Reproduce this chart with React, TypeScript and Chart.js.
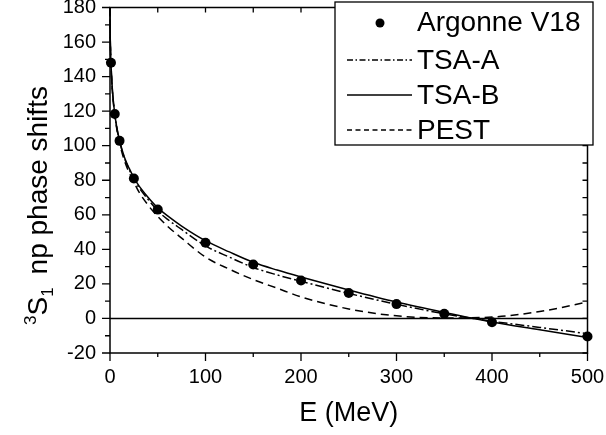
import React, { useEffect, useRef } from 'react';
import { Chart, registerables } from 'chart.js';

Chart.register(...registerables);

// ---- Data ----
const curveE = [0, 0.2, 0.5, 1, 2, 3, 5, 7, 10, 15, 20, 25, 30, 40, 50, 60, 75, 100, 125, 150, 175, 200, 250, 300, 350, 400, 450, 500];
const tsaA = [180, 165, 156.6, 148, 136.5, 128.8, 118.2, 110.8, 102.6, 93, 86.3, 80.5, 76, 68.8, 62.3, 57.5, 51.5, 42, 35.5, 29.5, 25.2, 21.5, 14.5, 8.2, 2.7, -1.6, -5.2, -8.8];
const tsaB = [180, 165, 156.6, 148, 136.5, 128.8, 118.4, 111, 103, 93.5, 87, 81.5, 77, 70, 64, 59.5, 53.5, 45, 38.5, 32.5, 28, 24, 16.5, 9.5, 3.5, -2, -6.5, -11];
const pest = [180, 165, 156.5, 147.8, 136, 128, 117.5, 110, 101.5, 91.5, 84.5, 79, 73.5, 65.5, 59, 53.5, 46.5, 35.5, 28.5, 22.5, 17.5, 12.5, 5.5, 1.5, 0.3, 0.8, 4, 9.5];

const argonneE = [1, 5, 10, 25, 50, 100, 150, 200, 250, 300, 350, 400, 500];
const argonne = [148, 118.4, 102.8, 81, 63, 43.8, 31.2, 22, 14.7, 8.3, 2.7, -2.2, -10.5];

const zeroLineE = [0, 500];
const zeroLineV = [0, 0];

const seriesLabels = ['Argonne V18', 'TSA-A', 'TSA-B', 'PEST'];
const xTitle = 'E (MeV)';
const yTitleSup = '3';
const yTitleMain = 'S';
const yTitleSub = '1';
const yTitleRest = 'np phase shifts';

const xMin = 0, xMax = 500, xStep = 100, xMinorStep = 50;
const yMin = -20, yMax = 180, yStep = 20, yMinorStep = 10;

const FONT = '"Liberation Sans", Arial, Helvetica, sans-serif';

const pts = (xs: number[], ys: number[]) => xs.map((x, i) => ({ x, y: ys[i] }));

const framePlugin = {
  id: 'frame',
  afterDatasetsDraw(chart: any) {
    const ctx = chart.ctx;
    const { left, right, top, bottom } = chart.chartArea;
    const xs = chart.scales.x;
    const ys = chart.scales.y;
    ctx.save();
    ctx.strokeStyle = '#000';
    ctx.lineWidth = 1.5;
    ctx.strokeRect(left, top, right - left, bottom - top);
    ctx.lineWidth = 1.3;
    ctx.beginPath();
    for (let v = xMin; v <= xMax; v += xMinorStep) {
      const px = xs.getPixelForValue(v);
      const major = v % xStep === 0;
      ctx.moveTo(px, bottom);
      ctx.lineTo(px, bottom + (major ? 8 : 4));
      ctx.moveTo(px, top);
      ctx.lineTo(px, top + 5);
    }
    for (let v = yMin; v <= yMax; v += yMinorStep) {
      const py = ys.getPixelForValue(v);
      const major = v % yStep === 0;
      ctx.moveTo(left, py);
      ctx.lineTo(left - (major ? 8 : 5), py);
      ctx.moveTo(right, py);
      ctx.lineTo(right - 5, py);
    }
    ctx.stroke();

    // axis titles
    ctx.fillStyle = '#000';
    ctx.font = `27px ${FONT}`;
    ctx.textAlign = 'center';
    ctx.textBaseline = 'alphabetic';
    ctx.fillText(xTitle, (left + right) / 2, 421);

    ctx.save();
    ctx.translate(47, 325);
    ctx.rotate(-Math.PI / 2);
    ctx.textAlign = 'left';
    let cx = 0;
    ctx.font = `17px ${FONT}`;
    ctx.fillText(yTitleSup, cx, -11);
    cx += ctx.measureText(yTitleSup).width;
    ctx.font = `28px ${FONT}`;
    ctx.fillText(yTitleMain, cx, 0);
    cx += ctx.measureText(yTitleMain).width;
    ctx.font = `17px ${FONT}`;
    ctx.fillText(yTitleSub, cx, 6);
    cx += ctx.measureText(yTitleSub).width + 13;
    ctx.font = `28px ${FONT}`;
    ctx.fillText(yTitleRest, cx, 0);
    ctx.restore();

    // legend
    const bx = 335, by = 2, bw = 258, bh = 143;
    ctx.fillStyle = '#fff';
    ctx.fillRect(bx, by, bw, bh);
    ctx.strokeStyle = '#000';
    ctx.lineWidth = 1.3;
    ctx.strokeRect(bx, by, bw, bh);
    const rows = [23, 61, 96, 131];
    const textX = 417;
    ctx.font = `28px ${FONT}`;
    ctx.textBaseline = 'middle';
    ctx.textAlign = 'left';
    const dashes = [[], [6, 2.5, 1.5, 2.5], [], [5, 3.5]];
    seriesLabels.forEach((lab, i) => {
      const y = rows[i];
      ctx.fillStyle = '#000';
      if (i === 0) {
        ctx.beginPath();
        ctx.arc(380, y, 4.5, 0, Math.PI * 2);
        ctx.fill();
      } else {
        ctx.save();
        ctx.setLineDash(dashes[i]);
        ctx.lineWidth = 1.3;
        ctx.beginPath();
        ctx.moveTo(347, y - 1);
        ctx.lineTo(412, y - 1);
        ctx.stroke();
        ctx.restore();
      }
      ctx.fillText(lab, textX, y);
    });
    ctx.restore();
  },
};

export default function App() {
  const ref = useRef<HTMLCanvasElement | null>(null);
  useEffect(() => {
    document.body.style.margin = '0';
    const canvas = ref.current;
    if (!canvas) return;
    const chart = new Chart(canvas, {
      type: 'line',
      data: {
        datasets: [
          {
            label: 'zero',
            data: pts(zeroLineE, zeroLineV),
            borderColor: '#000',
            borderWidth: 1.5,
            pointRadius: 0,
            order: 5,
          },
          {
            label: seriesLabels[3],
            data: pts(curveE, pest),
            borderColor: '#000',
            borderWidth: 1.5,
            borderDash: [8, 5],
            pointRadius: 0,
            cubicInterpolationMode: 'monotone',
            order: 4,
          },
          {
            label: seriesLabels[1],
            data: pts(curveE, tsaA),
            borderColor: '#000',
            borderWidth: 1.5,
            borderDash: [9, 3, 2, 3],
            pointRadius: 0,
            cubicInterpolationMode: 'monotone',
            order: 3,
          },
          {
            label: seriesLabels[2],
            data: pts(curveE, tsaB),
            borderColor: '#000',
            borderWidth: 1.5,
            pointRadius: 0,
            cubicInterpolationMode: 'monotone',
            order: 2,
          },
          {
            label: seriesLabels[0],
            data: pts(argonneE, argonne),
            showLine: false,
            pointRadius: 5,
            pointBackgroundColor: '#000',
            pointBorderColor: '#000',
            pointBorderWidth: 0,
            order: 1,
          },
        ],
      },
      options: {
        animation: false,
        responsive: false,
        maintainAspectRatio: false,
        parsing: false,
        clip: false,
        layout: { padding: { top: 7.5, right: 18.5, left: 0, bottom: 0 } },
        plugins: { legend: { display: false }, tooltip: { enabled: false } },
        scales: {
          x: {
            type: 'linear',
            min: xMin,
            max: xMax,
            grid: { display: false, drawTicks: false },
            border: { display: false },
            ticks: {
              stepSize: xStep,
              color: '#000',
              font: { family: FONT, size: 20 },
              padding: 12,
              maxRotation: 0,
            },
            afterFit: (s: any) => {
              s.height = 82;
              s.paddingLeft = 0;
              s.paddingRight = 0;
            },
          },
          y: {
            type: 'linear',
            min: yMin,
            max: yMax,
            grid: { display: false, drawTicks: false },
            border: { display: false },
            ticks: {
              stepSize: yStep,
              color: '#000',
              font: { family: FONT, size: 20 },
              padding: 14,
            },
            afterFit: (s: any) => {
              s.width = 110;
              s.paddingTop = 0;
              s.paddingBottom = 0;
            },
          },
        },
      },
      plugins: [framePlugin],
    } as any);
    return () => chart.destroy();
  }, []);
  return (
    <div style={{ width: 606, height: 435, background: '#fff' }}>
      <canvas ref={ref} width={606} height={435} style={{ display: 'block' }} />
    </div>
  );
}
